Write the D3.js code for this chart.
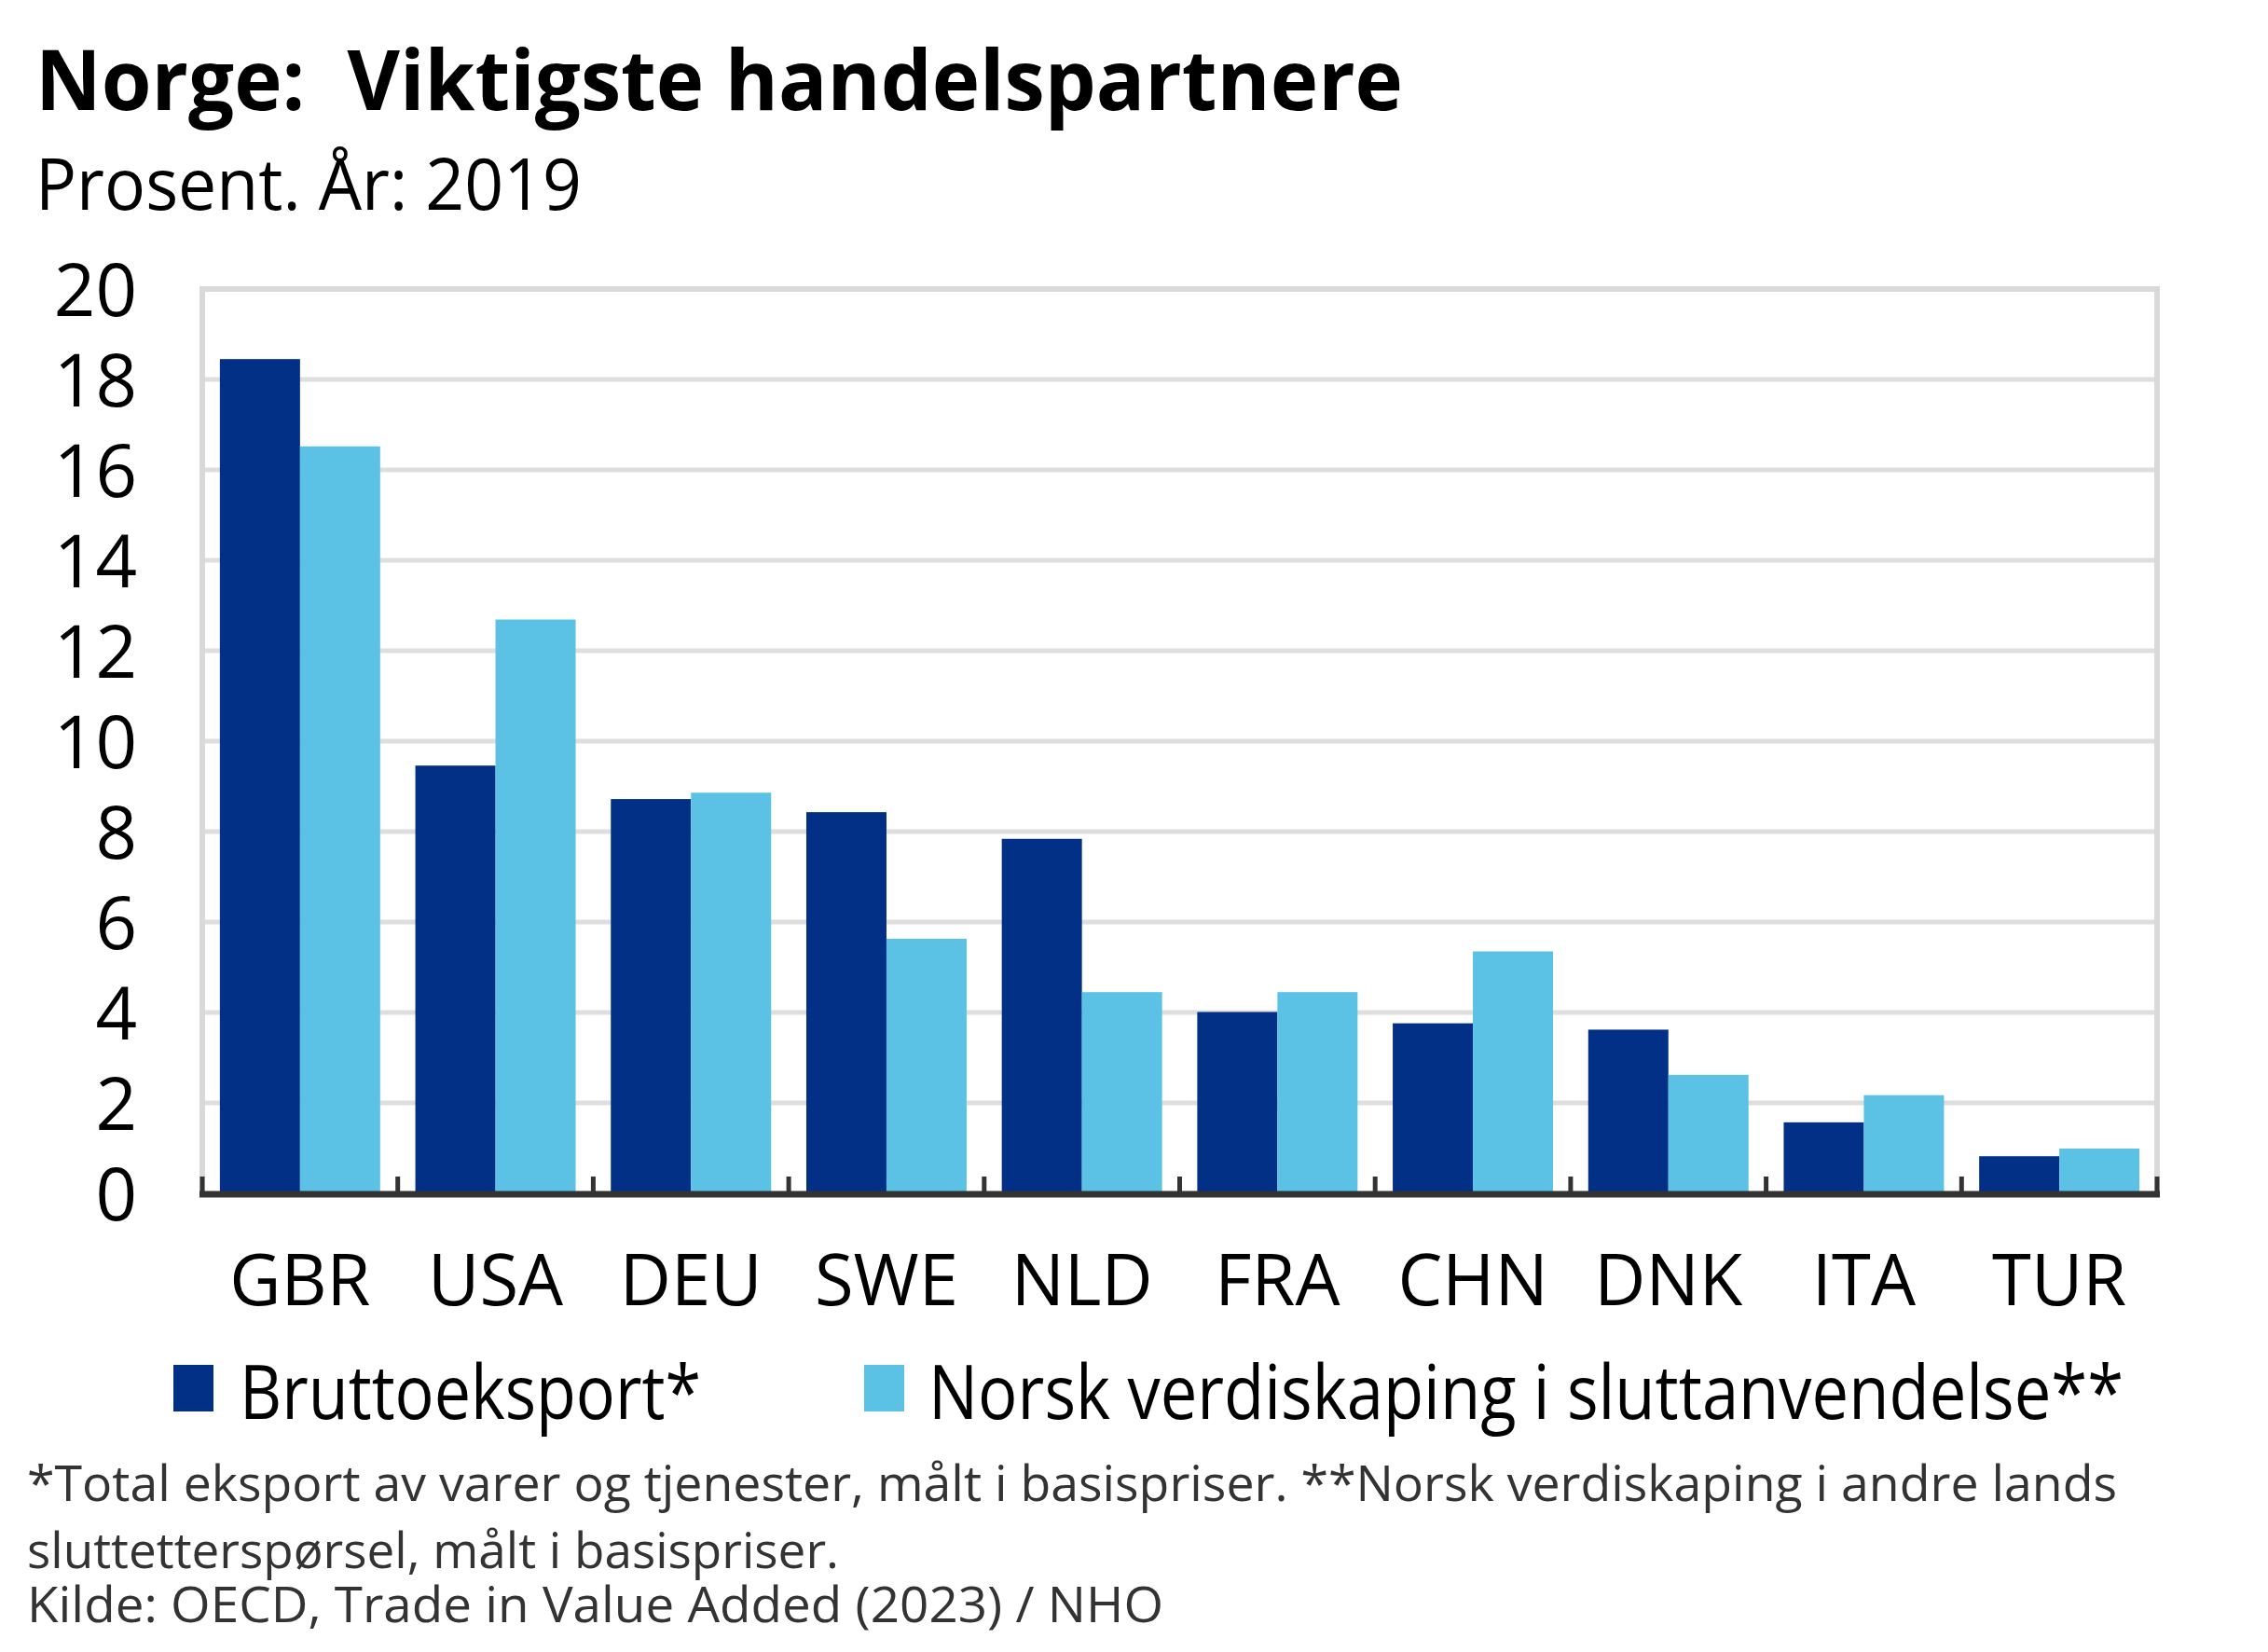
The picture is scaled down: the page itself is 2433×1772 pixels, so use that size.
<!DOCTYPE html>
<html>
<head>
<meta charset="utf-8">
<script src="https://cdn.jsdelivr.net/npm/d3@7"></script>
<style>
  html, body { margin: 0; padding: 0; background: #fff; }
  svg text { font-family: "Open Sans", "Noto Sans", sans-serif; white-space: pre; }
</style>
</head>
<body>
<div id="chart"></div>
<script>
// data
var countries = ["GBR", "USA", "DEU", "SWE", "NLD", "FRA", "CHN", "DNK", "ITA", "TUR"];
var bruttoeksport = [18.45, 9.46, 8.72, 8.43, 7.84, 4.01, 3.76, 3.62, 1.57, 0.82];
var verdiskaping = [16.52, 12.69, 8.86, 5.63, 4.45, 4.45, 5.35, 2.62, 2.17, 0.99];
var seriesNames = ["Bruttoeksport*", "Norsk verdiskaping i sluttanvendelse**"];
var yTicks = [0, 2, 4, 6, 8, 10, 12, 14, 16, 18, 20];
var footnotes = [
    "*Total eksport av varer og tjenester, målt i basispriser. **Norsk verdiskaping i andre lands",
    "sluttetterspørsel, målt i basispriser.",
    "Kilde: OECD, Trade in Value Added (2023) / NHO"
];

var W = 2433, H = 1772;
var colors = ["#023087", "#5bc2e6"];
var plot = {left: 217, right: 2314, top: 310, bottom: 1280};

var svg = d3.select("#chart")
  .append("svg")
    .attr("width", W)
    .attr("height", H)
    .attr("viewBox", "0 0 " + W + " " + H);

svg.append("rect").attr("width", W).attr("height", H).attr("fill", "#fff");

// title + subtitle
svg.append("text")
    .attr("x", 38).attr("y", 118)
    .attr("font-size", 90).attr("font-weight", 700)
    .attr("textLength", 1467).attr("lengthAdjust", "spacingAndGlyphs")
    .text("Norge:  Viktigste handelspartnere");

svg.append("text")
    .attr("x", 38).attr("y", 225)
    .attr("font-size", 77)
    .attr("textLength", 586).attr("lengthAdjust", "spacingAndGlyphs")
    .text("Prosent. År: 2019");

var data = countries.map(function(c, i) {
    return {country: c, values: [bruttoeksport[i], verdiskaping[i]]};
});

var x = d3.scaleBand()
    .domain(countries)
    .range([plot.left, plot.right])
    .paddingInner(0.18)
    .paddingOuter(0.09);

var x1 = d3.scaleBand()
    .domain([0, 1])
    .range([0, x.bandwidth()]);

var y = d3.scaleLinear()
    .domain([0, 20])
    .range([plot.bottom, plot.top]);

// gridlines
svg.append("g").selectAll("line")
    .data(yTicks.filter(function(d) { return d > 0 && d < 20; }))
    .enter().append("line")
    .attr("x1", plot.left).attr("x2", plot.right)
    .attr("y1", function(d) { return y(d); })
    .attr("y2", function(d) { return y(d); })
    .attr("stroke", "#dedede")
    .attr("stroke-width", 5);

// plot frame (left, top, right)
svg.append("path")
    .attr("d", "M" + plot.left + "," + plot.bottom + "V" + plot.top + "H" + plot.right + "V" + plot.bottom)
    .attr("fill", "none")
    .attr("stroke", "#d9d9d9")
    .attr("stroke-width", 6);

// y labels
var yAxis = svg.append("g")
    .attr("transform", "translate(" + (plot.left - 70) + ",0)")
    .call(d3.axisLeft(y).tickValues(yTicks).tickSize(0).tickPadding(0));
yAxis.select(".domain").remove();
yAxis.selectAll("text")
    .attr("font-size", 78)
    .attr("font-family", "'Open Sans', sans-serif")
    .attr("fill", "#000")
    .attr("dy", "0.36em");

// bars
var groups = svg.append("g").selectAll("g")
    .data(data)
    .enter().append("g")
    .attr("transform", function(d) { return "translate(" + x(d.country) + ",0)"; });

groups.selectAll("rect")
    .data(function(d) { return d.values; })
    .enter().append("rect")
    .attr("x", function(d, i) { return x1(i); })
    .attr("y", function(d) { return y(d); })
    .attr("width", x1.bandwidth())
    .attr("height", function(d) { return y(0) - y(d); })
    .attr("fill", function(d, i) { return colors[i]; });

// x axis line + ticks at category boundaries
var bounds = d3.range(countries.length + 1).map(function(i) {
    return plot.left + i * x.step();
});
svg.append("line")
    .attr("x1", plot.left - 3).attr("x2", plot.right + 3)
    .attr("y1", plot.bottom + 1).attr("y2", plot.bottom + 1)
    .attr("stroke", "#333").attr("stroke-width", 7);
svg.append("g").selectAll("line")
    .data(bounds)
    .enter().append("line")
    .attr("x1", function(d) { return d; }).attr("x2", function(d) { return d; })
    .attr("y1", plot.bottom - 18).attr("y2", plot.bottom)
    .attr("stroke", "#333").attr("stroke-width", 5);

// category labels
var xAxis = svg.append("g")
    .attr("transform", "translate(0," + plot.bottom + ")")
    .call(d3.axisBottom(x).tickSize(0).tickPadding(0));
xAxis.select(".domain").remove();
xAxis.selectAll("text")
    .attr("font-size", 76)
    .attr("font-family", "'Open Sans', sans-serif")
    .attr("fill", "#000")
    .attr("dy", null)
    .attr("y", 120);

// legend
var legendX = [186, 927], legendText = [257, 996], legendLen = [495, 1282];
var legend = svg.append("g").selectAll("g")
    .data(seriesNames)
    .enter().append("g");
legend.append("rect")
    .attr("x", function(d, i) { return legendX[i]; })
    .attr("y", 1464)
    .attr("width", 43).attr("height", 50)
    .attr("fill", function(d, i) { return colors[i]; });
legend.append("text")
    .attr("x", function(d, i) { return legendText[i]; })
    .attr("y", 1522)
    .attr("font-size", 80)
    .attr("textLength", function(d, i) { return legendLen[i]; })
    .attr("lengthAdjust", "spacingAndGlyphs")
    .text(function(d) { return d; });

// footnotes
var noteY = [1610, 1682, 1740], noteLen = [2242, 871, 1219];
svg.append("g").selectAll("text")
    .data(footnotes)
    .enter().append("text")
    .attr("x", 29)
    .attr("y", function(d, i) { return noteY[i]; })
    .attr("font-size", 53)
    .attr("fill", "#333")
    .attr("textLength", function(d, i) { return noteLen[i]; })
    .attr("lengthAdjust", "spacingAndGlyphs")
    .text(function(d) { return d; });
</script>
</body>
</html>
